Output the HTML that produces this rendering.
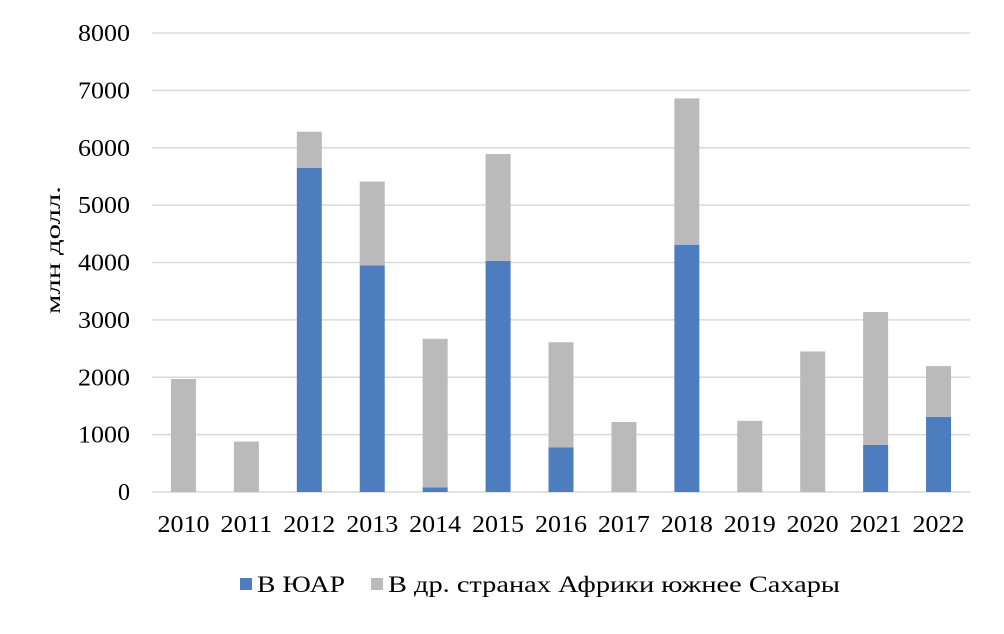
<!DOCTYPE html>
<html><head><meta charset="utf-8"><style>
body{margin:0;background:#fff;}
svg text{font-family:"Liberation Serif","DejaVu Serif",serif;fill:#000;}
</style></head><body>
<svg width="1004" height="629" font-family="Liberation Serif, DejaVu Serif, serif">
<g id="grid"></g><g id="bars"></g><g id="xlabels"></g><g id="ylabels"></g>
<text transform="translate(60,250) rotate(-90)" text-anchor="middle" font-size="21" textLength="128" lengthAdjust="spacingAndGlyphs">млн долл.</text>
<g>
<rect x="240" y="578" width="12" height="12" fill="#4e7dbf"/>
<text x="257" y="592" font-size="23" textLength="88" lengthAdjust="spacingAndGlyphs">В ЮАР</text>
<rect x="371" y="578" width="12" height="12" fill="#bababa"/>
<text x="388" y="592" font-size="23" textLength="452" lengthAdjust="spacingAndGlyphs">В др. странах Африки южнее Сахары</text>
</g>
</svg>
<script>
const categories=["2010","2011","2012","2013","2014","2015","2016","2017","2018","2019","2020","2021","2022"];
const southAfrica=[0,0,5650,3950,80,4030,780,0,4310,0,0,820,1310];
const otherSSA=[1970,880,630,1460,2590,1860,1830,1220,2550,1240,2450,2316,884];
const yTicks=[0,1000,2000,3000,4000,5000,6000,7000,8000];
const NS="http://www.w3.org/2000/svg";
const x0=152,x1=970,y0=492,yTop=33,yMax=8000;
const step=(x1-x0)/categories.length,bw=25;
const y=v=>y0-(v/yMax)*(y0-yTop);
const cx=i=>x0+step*(i+0.5);
function mk(t,a,p){const e=document.createElementNS(NS,t);for(const k in a)e.setAttribute(k,a[k]);p.appendChild(e);return e;}
const grid=document.getElementById('grid'),bars=document.getElementById('bars'),xl=document.getElementById('xlabels'),yl=document.getElementById('ylabels');
yTicks.forEach(t=>{
 const l=mk('line',{x1:x0,x2:x1,y1:y(t),y2:y(t),stroke:'#d9d9d9','stroke-width':1.5},grid);
 
 
 const tx=mk('text',{x:130,y:y(t)+8,'text-anchor':'end','font-size':24},yl);
 tx.textContent=t;
 if(String(t).length>1){tx.setAttribute('textLength',13*String(t).length);tx.setAttribute('lengthAdjust','spacingAndGlyphs');}
 
 
});
categories.forEach((c,i)=>{
 const a=southAfrica[i],b=otherSSA[i];
 if(a>0){const r=mk('rect',{x:cx(i)-bw/2,y:y(a),width:bw,height:y0-y(a),fill:'#4e7dbf'},bars);
 
 }
 const r2=mk('rect',{x:cx(i)-bw/2,y:y(a+b),width:bw,height:y(a)-y(a+b),fill:'#bababa'},bars);
 
 
 const t=mk('text',{x:cx(i),y:532,'text-anchor':'middle','font-size':24,textLength:52,lengthAdjust:'spacingAndGlyphs'},xl);
 t.textContent=c;
 
 
});
</script>
</body></html>
